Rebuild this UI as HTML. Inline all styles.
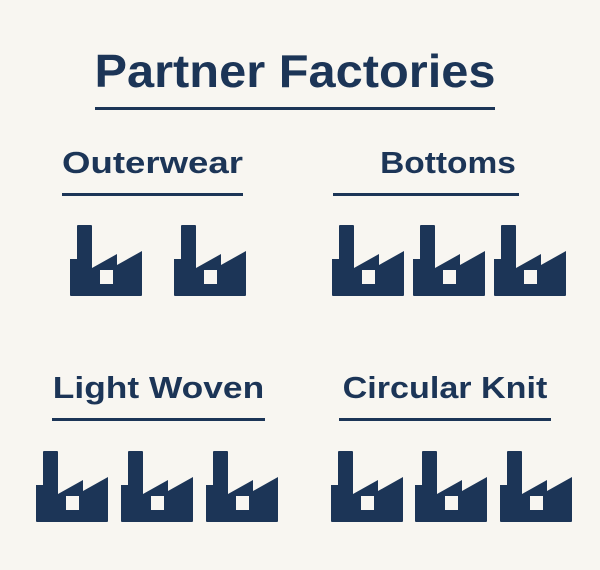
<!DOCTYPE html>
<html><head><style>
body{margin:0;width:600px;height:570px;background:#f8f6f1;position:relative;overflow:hidden;font-family:"Liberation Sans",sans-serif;color:#1c3557}
.t{position:absolute;font-weight:bold;white-space:nowrap;text-align:center}
.l{position:absolute;height:3px;background:#1c3557}
svg{position:absolute;left:0;top:0}
</style></head><body>
<div class="t" style="left:0;width:590px;top:44px;font-size:46px;transform:scaleX(1.06)">Partner Factories</div>
<div class="l" style="left:95px;width:400px;top:107px"></div>
<div class="t" style="left:62px;width:181px;top:145px;font-size:31px;transform:scaleX(1.18)">Outerwear</div>
<div class="l" style="left:62px;width:181px;top:193px"></div>
<div class="t" style="left:370px;width:156px;top:145px;font-size:31px;transform:scaleX(1.08)">Bottoms</div>
<div class="l" style="left:333px;width:186px;top:193px"></div>
<div class="t" style="left:52px;width:213px;top:370px;font-size:31px;transform:scaleX(1.14)">Light Woven</div>
<div class="l" style="left:52px;width:213px;top:418px"></div>
<div class="t" style="left:339px;width:212px;top:370px;font-size:31px;transform:scaleX(1.1)">Circular Knit</div>
<div class="l" style="left:339px;width:212px;top:418px"></div>
<svg width="600" height="570" viewBox="0 0 600 570">
<defs><g id="f"><path d="M0 34H7V1Q7 0 8 0H21Q22 0 22 1V43L47 29V40L72 26V70Q72 71 71 71H1Q0 71 0 70Z" fill="#1c3557"/><rect x="30" y="45" width="13" height="14" fill="#f8f6f1"/></g></defs>
<use href="#f" x="70" y="225"/><use href="#f" x="174" y="225"/>
<use href="#f" x="332" y="225"/><use href="#f" x="413" y="225"/><use href="#f" x="494" y="225"/>
<use href="#f" x="36" y="451"/><use href="#f" x="121" y="451"/><use href="#f" x="206" y="451"/>
<use href="#f" x="331" y="451"/><use href="#f" x="415" y="451"/><use href="#f" x="500" y="451"/>
</svg>
</body></html>
